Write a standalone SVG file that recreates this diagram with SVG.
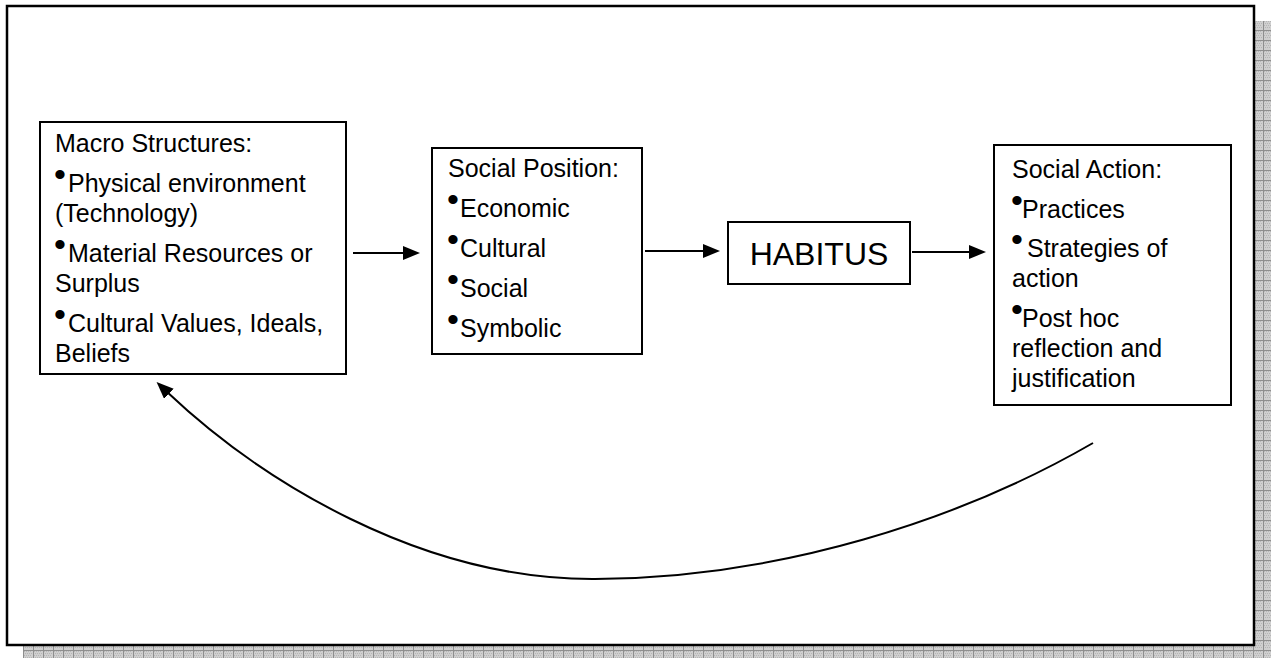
<svg xmlns="http://www.w3.org/2000/svg" width="1271" height="658" viewBox="0 0 1271 658">
<defs>
<pattern id="grid" x="3" y="0" width="10" height="10" patternUnits="userSpaceOnUse">
<rect width="10" height="10" fill="#cfcfcf"/>
<rect x="1" y="1" width="1" height="1" fill="#b5b5b5"/><rect x="3" y="1" width="1" height="1" fill="#b5b5b5"/><rect x="5" y="1" width="1" height="1" fill="#b5b5b5"/><rect x="7" y="1" width="1" height="1" fill="#b5b5b5"/>
<rect x="2" y="3" width="1" height="1" fill="#b5b5b5"/><rect x="4" y="3" width="1" height="1" fill="#b5b5b5"/><rect x="6" y="3" width="1" height="1" fill="#b5b5b5"/><rect x="8" y="3" width="1" height="1" fill="#b5b5b5"/>
<rect x="1" y="5" width="1" height="1" fill="#b5b5b5"/><rect x="3" y="5" width="1" height="1" fill="#b5b5b5"/><rect x="5" y="5" width="1" height="1" fill="#b5b5b5"/><rect x="7" y="5" width="1" height="1" fill="#b5b5b5"/>
<rect x="2" y="7" width="1" height="1" fill="#b5b5b5"/><rect x="4" y="7" width="1" height="1" fill="#b5b5b5"/><rect x="6" y="7" width="1" height="1" fill="#b5b5b5"/><rect x="8" y="7" width="1" height="1" fill="#b5b5b5"/>
<rect x="0" y="0" width="10" height="1" fill="#8e8e8e"/>
<rect x="0" y="0" width="1" height="10" fill="#8e8e8e"/>
</pattern>
<marker id="ah" viewBox="0 0 17 14" markerWidth="17" markerHeight="14" refX="4" refY="7" orient="auto" markerUnits="userSpaceOnUse">
<path d="M0,0 L17,7 L0,14 z" fill="#000"/>
</marker>
</defs>
<style>
text{font-family:"Liberation Sans",Arial,sans-serif;font-size:25px;fill:#000}
.b{font-size:34px}
.box{fill:#fff;stroke:#000;stroke-width:2}
.con{fill:none;stroke:#000;stroke-width:2}
.hab{font-size:32px}
</style>
<rect width="1271" height="658" fill="#fff"/>
<g id="frame">
<rect x="23" y="21" width="1248" height="640" fill="url(#grid)"/>
<rect x="7" y="6" width="1247" height="639" fill="#fff" stroke="#000" stroke-width="2.5"/>
</g>
<g id="macro">
<rect class="box" x="40" y="122" width="306" height="252"/>
<text x="55" y="152">Macro Structures:</text>
<text x="54" y="192"><tspan class="b" dy="-6">•</tspan><tspan x="68" dy="6">Physical environment</tspan></text>
<text x="55" y="222">(Technology)</text>
<text x="54" y="262"><tspan class="b" dy="-6">•</tspan><tspan x="68" dy="6">Material Resources or</tspan></text>
<text x="55" y="292">Surplus</text>
<text x="54" y="332"><tspan class="b" dy="-6">•</tspan><tspan x="68" dy="6">Cultural Values, Ideals,</tspan></text>
<text x="55" y="362">Beliefs</text>
</g>
<g id="position">
<rect class="box" x="432" y="148" width="210" height="206"/>
<text x="448" y="177">Social Position:</text>
<text x="447" y="217"><tspan class="b" dy="-6">•</tspan><tspan x="460" dy="6">Economic</tspan></text>
<text x="447" y="257"><tspan class="b" dy="-6">•</tspan><tspan x="460" dy="6">Cultural</tspan></text>
<text x="447" y="297"><tspan class="b" dy="-6">•</tspan><tspan x="460" dy="6">Social</tspan></text>
<text x="447" y="337"><tspan class="b" dy="-6">•</tspan><tspan x="460" dy="6">Symbolic</tspan></text>
</g>
<g id="habitus">
<rect class="box" x="728" y="222" width="182" height="62"/>
<text class="hab" x="819" y="265" text-anchor="middle">HABITUS</text>
</g>
<g id="action">
<rect class="box" x="994" y="145" width="237" height="260"/>
<text x="1012" y="178">Social Action:</text>
<text x="1011" y="218"><tspan class="b" dy="-6">•</tspan><tspan x="1022" dy="6">Practices</tspan></text>
<text x="1011" y="257"><tspan class="b" dy="-6">•</tspan><tspan x="1027" dy="6">Strategies of</tspan></text>
<text x="1012" y="287">action</text>
<text x="1011" y="327"><tspan class="b" dy="-6">•</tspan><tspan x="1022" dy="6">Post hoc</tspan></text>
<text x="1012" y="357">reflection and</text>
<text x="1012" y="387">justification</text>
</g>
<g id="connectors">
<line class="con" x1="353" y1="253" x2="407" y2="253" marker-end="url(#ah)"/>
<line class="con" x1="645" y1="251" x2="707" y2="251" marker-end="url(#ah)"/>
<line class="con" x1="912" y1="252" x2="973" y2="252" marker-end="url(#ah)"/>
<path class="con" d="M1093,443 C960,520 780,578 595,579 C420,580 260,480 166,391" marker-end="url(#ah)"/>
</g>
</svg>
